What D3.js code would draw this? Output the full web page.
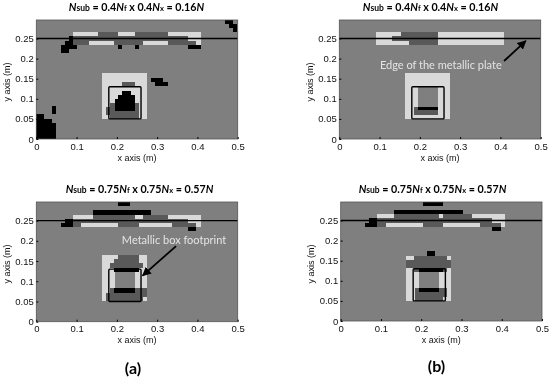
<!DOCTYPE html>
<html>
<meta charset="utf-8">
<title>Nsub reconstructions</title>
<style>
  body { margin: 0; background: #fff; }
  svg { display: block; filter: blur(0.35px); }
  .axis text { font: 9.5px "Liberation Sans", Arial, sans-serif; fill: #111; }
  .axis-label { font: 9px "Liberation Sans", Arial, sans-serif; fill: #111; }
  .title { font: bold 10.7px Lato, sans-serif; fill: #000; text-anchor: middle; }
  .note { font: 11px Lato, sans-serif; fill: #e4e4e4; text-anchor: middle; }
  .caption { font: bold 16px Lato, sans-serif; fill: #000; text-anchor: middle; }
</style>
<body>
<script src="https://d3js.org/d3.v7.min.js"></script>
<script>
var xTicks = [0, 0.1, 0.2, 0.3, 0.4, 0.5];
var yTicks = [0, 0.05, 0.1, 0.15, 0.2, 0.25];
var plateEdge = 0.25;
var boxFootprint = [0.18, 0.26, 0.05, 0.13];
var levels = ["#000000", "#595959", "#7f7f7f", "#d9d9d9"];

// cells: x0, x1, y0, y1 (metres), level index
var cellsA = [
  [0.091,0.153,0.255,0.265,3],[0.153,0.203,0.255,0.265,1],[0.203,0.244,0.255,0.265,3],[0.244,0.326,0.255,0.265,1],[0.326,0.408,0.255,0.265,3],
  [0.081,0.091,0.245,0.255,0],[0.091,0.377,0.245,0.255,1],[0.377,0.408,0.245,0.255,3],
  [0.071,0.091,0.235,0.245,0],[0.091,0.132,0.235,0.245,1],[0.132,0.194,0.235,0.245,3],[0.194,0.265,0.235,0.245,1],[0.265,0.326,0.235,0.245,3],[0.326,0.397,0.235,0.245,1],[0.397,0.408,0.235,0.245,3],
  [0.061,0.102,0.225,0.235,0],[0.204,0.214,0.225,0.235,0],[0.244,0.254,0.225,0.235,0],[0.377,0.408,0.225,0.235,0],
  [0.061,0.081,0.215,0.225,0],
  [0.469,0.489,0.286,0.296,0],[0.479,0.499,0.276,0.286,0],[0.489,0.499,0.266,0.276,0],
  [0.285,0.315,0.1425,0.1525,0],[0.295,0.326,0.1325,0.1425,0],
  [0.163,0.275,0.05,0.164,3],
  [0.214,0.244,0.13,0.143,1],
  [0.183,0.254,0.05,0.09,1],[0.173,0.183,0.06,0.08,1],
  [0.214,0.234,0.11,0.12,0],[0.204,0.244,0.10,0.11,0],[0.195,0.244,0.07,0.10,0],
  [0,0.02,0,0.061,0],[0.02,0.04,0,0.05,0],[0.04,0.05,0,0.04,0],[0.04,0.05,0.061,0.081,0]
];

var cellsB = [
  [0.091,0.153,0.235,0.265,3],[0.153,0.245,0.245,0.265,1],[0.173,0.245,0.235,0.245,1],[0.153,0.173,0.235,0.245,3],[0.132,0.153,0.245,0.255,1],[0.245,0.408,0.235,0.265,3],
  [0.163,0.275,0.05,0.163,3],
  [0.195,0.244,0.08,0.13,2],
  [0.185,0.244,0.06,0.08,1],[0.195,0.244,0.071,0.08,0]
];

var cellsC = [
  [0.204,0.233,0.285,0.295,0],
  [0.142,0.285,0.265,0.275,0],
  [0.091,0.142,0.255,0.265,3],[0.142,0.244,0.255,0.265,1],[0.244,0.265,0.255,0.265,3],[0.265,0.326,0.255,0.265,1],[0.326,0.408,0.255,0.265,3],
  [0.071,0.091,0.245,0.255,0],[0.091,0.377,0.245,0.255,1],[0.377,0.408,0.245,0.255,3],
  [0.061,0.091,0.235,0.245,0],[0.091,0.112,0.235,0.245,1],[0.112,0.204,0.235,0.245,3],[0.204,0.254,0.235,0.245,1],[0.254,0.336,0.235,0.245,3],[0.336,0.397,0.235,0.245,1],[0.397,0.408,0.235,0.245,3],
  [0.377,0.397,0.225,0.235,0],
  [0.163,0.275,0.052,0.164,3],
  [0.204,0.254,0.154,0.164,1],[0.194,0.254,0.144,0.154,1],[0.183,0.264,0.133,0.144,1],
  [0.194,0.256,0.123,0.133,0],
  [0.195,0.244,0.083,0.123,2],
  [0.183,0.264,0.05,0.083,1],[0.264,0.274,0.06,0.083,1],[0.173,0.183,0.05,0.072,1],
  [0.194,0.244,0.072,0.083,0]
];

var cellsD = [
  [0.204,0.254,0.285,0.295,0],
  [0.133,0.305,0.265,0.275,0],
  [0.091,0.133,0.255,0.265,3],[0.133,0.244,0.255,0.265,1],[0.244,0.254,0.255,0.265,3],[0.254,0.325,0.255,0.265,1],[0.325,0.407,0.255,0.265,3],
  [0.071,0.091,0.245,0.255,0],[0.091,0.377,0.245,0.255,1],[0.377,0.407,0.245,0.255,3],
  [0.061,0.091,0.235,0.245,0],[0.091,0.112,0.235,0.245,1],[0.112,0.204,0.235,0.245,3],[0.204,0.254,0.235,0.245,1],[0.254,0.346,0.235,0.245,3],[0.346,0.397,0.235,0.245,1],[0.397,0.407,0.235,0.245,3],
  [0.377,0.397,0.225,0.235,0],
  [0.214,0.234,0.162,0.173,0],
  [0.163,0.183,0.152,0.162,3],[0.183,0.265,0.152,0.162,1],[0.265,0.275,0.152,0.162,3],
  [0.163,0.275,0.133,0.152,1],
  [0.163,0.275,0.05,0.133,3],
  [0.183,0.265,0.123,0.133,1],[0.195,0.254,0.123,0.133,0],
  [0.195,0.245,0.083,0.123,2],
  [0.184,0.255,0.05,0.083,1],[0.255,0.265,0.06,0.083,1],
  [0.194,0.244,0.071,0.081,0]
];

// annotations: text x, text y, label, arrow from x, y, arrow to x, y
var noteB = [0.252, 0.174, "Edge of the metallic plate", 0.409, 0.194, 0.463, 0.244];
var noteC = [0.342, 0.193, "Metallic box footprint", 0.347, 0.187, 0.264, 0.114];

var panels = [
  { left: 36.3, top: 20, bottom: 139, right: 237.7, cells: cellsA, f: "0.4", r: "0.16", titleX: 136.5, titleY: 10.5, note: null },
  { left: 339.3, top: 20, bottom: 139, right: 540.7, cells: cellsB, f: "0.4", r: "0.16", titleX: 430.5, titleY: 10.5, note: noteB },
  { left: 36.3, top: 202, bottom: 321.7, right: 237.7, cells: cellsC, f: "0.75", r: "0.57", titleX: 139.5, titleY: 192.5, note: noteC },
  { left: 340.7, top: 202, bottom: 321, right: 542, cells: cellsD, f: "0.75", r: "0.57", titleX: 432.5, titleY: 192.5, note: null }
];
var captions = [["(a)", 133, 374], ["(b)", 436.5, 372]];

var svg = d3.select("body").append("svg")
    .attr("width", 550)
    .attr("height", 379);

var defs = svg.append("defs");
defs.append("marker")
    .attr("id", "head")
    .attr("viewBox", "0 0 10 10")
    .attr("refX", 9)
    .attr("refY", 5)
    .attr("markerWidth", 5)
    .attr("markerHeight", 5)
    .attr("orient", "auto")
  .append("path")
    .attr("d", "M0,0L10,5L0,10z")
    .attr("fill", "#000");

panels.forEach(function(p) {
  var x = d3.scaleLinear().domain([0, 0.5]).range([p.left, p.right]);
  var y = d3.scaleLinear().domain([0, 0.296]).range([p.bottom, p.top]);

  svg.append("rect")
      .attr("x", p.left)
      .attr("y", p.top)
      .attr("width", p.right - p.left)
      .attr("height", p.bottom - p.top)
      .attr("fill", levels[2]);

  svg.append("g")
      .attr("shape-rendering", "crispEdges")
    .selectAll("rect")
      .data(p.cells)
    .enter().append("rect")
      .attr("x", function(d) { return x(d[0]); })
      .attr("width", function(d) { return x(d[1]) - x(d[0]); })
      .attr("y", function(d) { return y(d[3]); })
      .attr("height", function(d) { return y(d[2]) - y(d[3]); })
      .attr("fill", function(d) { return levels[d[4]]; });

  svg.append("line")
      .attr("x1", x(0))
      .attr("x2", x(0.5))
      .attr("y1", y(plateEdge))
      .attr("y2", y(plateEdge))
      .attr("stroke", "#000")
      .attr("stroke-width", 1.4);

  svg.append("rect")
      .attr("x", x(boxFootprint[0]))
      .attr("width", x(boxFootprint[1]) - x(boxFootprint[0]))
      .attr("y", y(boxFootprint[3]))
      .attr("height", y(boxFootprint[2]) - y(boxFootprint[3]))
      .attr("rx", 1)
      .attr("fill", "none")
      .attr("stroke", "#000")
      .attr("stroke-width", 1.4);

  svg.append("rect")
      .attr("x", p.left)
      .attr("y", p.top)
      .attr("width", p.right - p.left)
      .attr("height", p.bottom - p.top)
      .attr("fill", "none")
      .attr("stroke", "#555")
      .attr("stroke-width", 0.8);

  svg.append("g")
      .attr("class", "axis")
      .attr("transform", "translate(0," + p.bottom + ")")
      .call(d3.axisBottom(x).tickValues(xTicks).tickFormat(String).tickSize(-2).tickPadding(4))
      .call(function(g) { g.select(".domain").remove(); });

  svg.append("g")
      .attr("class", "axis")
      .attr("transform", "translate(" + p.left + ",0)")
      .call(d3.axisLeft(y).tickValues(yTicks).tickFormat(String).tickSize(-2).tickPadding(2.5))
      .call(function(g) { g.select(".domain").remove(); });

  svg.append("text")
      .attr("class", "axis-label")
      .attr("x", x(0.25))
      .attr("y", p.bottom + 21.5)
      .attr("text-anchor", "middle")
      .text("x axis (m)");

  svg.append("text")
      .attr("class", "axis-label")
      .attr("transform", "translate(" + (p.left - 26.5) + "," + (p.top + 62) + ") rotate(-90)")
      .attr("text-anchor", "middle")
      .text("y axis (m)");

  // title with the mixed italic and small parts
  var t = svg.append("text")
      .attr("class", "title")
      .attr("x", p.titleX)
      .attr("y", p.titleY);
  t.append("tspan").attr("font-style", "italic").text("N");
  t.append("tspan").attr("font-size", "8.5px").text("sub");
  t.append("tspan").text(" = " + p.f);
  t.append("tspan").attr("font-style", "italic").text("N");
  t.append("tspan").attr("font-size", "7.5px").text("f");
  t.append("tspan").text(" x " + p.f);
  t.append("tspan").attr("font-style", "italic").text("N");
  t.append("tspan").attr("font-size", "7.5px").text("x");
  t.append("tspan").text(" = " + p.r);
  t.append("tspan").attr("font-style", "italic").text("N");

  if (p.note) {
    svg.append("text")
        .attr("class", "note")
        .attr("x", x(p.note[0]))
        .attr("y", y(p.note[1]))
        .text(p.note[2]);
    svg.append("line")
        .attr("x1", x(p.note[3]))
        .attr("y1", y(p.note[4]))
        .attr("x2", x(p.note[5]))
        .attr("y2", y(p.note[6]))
        .attr("stroke", "#000")
        .attr("stroke-width", 1.8)
        .attr("marker-end", "url(#head)");
  }
});

svg.selectAll(".caption")
    .data(captions)
  .enter().append("text")
    .attr("class", "caption")
    .attr("x", function(d) { return d[1]; })
    .attr("y", function(d) { return d[2]; })
    .text(function(d) { return d[0]; });
</script>
</body>
</html>
